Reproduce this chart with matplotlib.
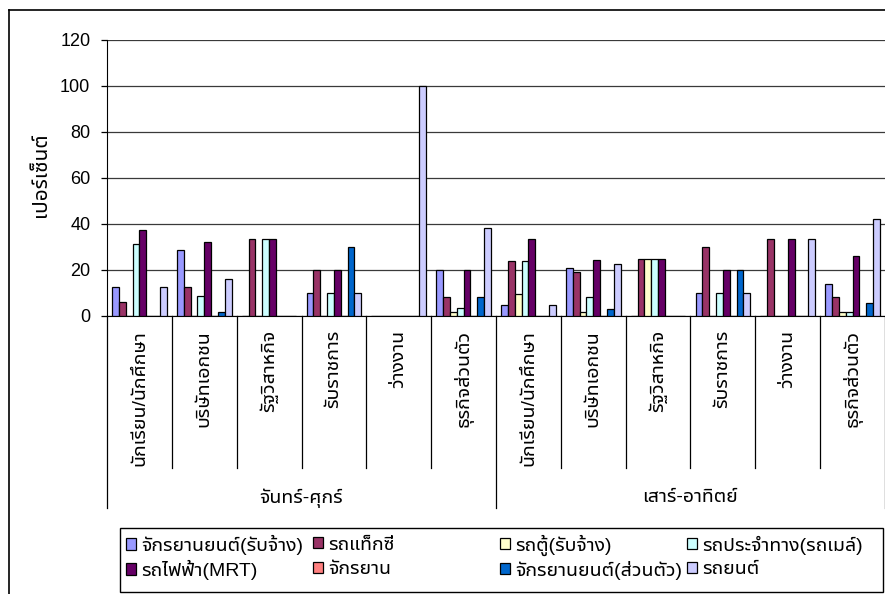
import matplotlib
matplotlib.use("Agg")
import matplotlib.pyplot as plt
import numpy as np
from matplotlib import font_manager
from matplotlib.ft2font import FT2Font
from matplotlib.transforms import blended_transform_factory
from matplotlib.lines import Line2D
from matplotlib.patches import Rectangle

# ---- data -------------------------------------------------------------
occupations = ['นักเรียน/นักศึกษา', 'บริษัทเอกชน', 'รัฐวิสาหกิจ',
               'รับราชการ', 'ว่างงาน', 'ธุรกิจส่วนตัว']
day_groups = ['จันทร์-ศุกร์', 'เสาร์-อาทิตย์']
categories = occupations * 2

series_names = ['จักรยานยนต์(รับจ้าง)', 'รถแท็กซี่', 'รถตู้(รับจ้าง)',
                'รถประจำทาง(รถเมล์)', 'รถไฟฟ้า(MRT)', 'จักรยาน',
                'จักรยานยนต์(ส่วนตัว)', 'รถยนต์']

moto_taxi  = [12.5, 28.6, 0, 10, 0, 20.0,  4.8, 21.0, 0, 10, 0, 13.9]
taxi       = [6.25, 12.5, 33.3, 20, 0, 8.3, 23.8, 19.0, 25, 30, 33.3, 8.3]
van        = [0, 0, 0, 0, 0, 1.7,  9.5, 1.7, 25, 0, 0, 1.7]
bus        = [31.25, 8.9, 33.3, 10, 0, 3.5, 23.8, 8.3, 25, 10, 0, 1.7]
mrt        = [37.5, 32.1, 33.3, 20, 0, 20.0, 33.3, 24.2, 25, 20, 33.3, 26.1]
bicycle    = [0, 0, 0, 0, 0, 0, 0, 0, 0, 0, 0, 0]
own_moto   = [0, 1.8, 0, 30, 0, 8.3, 0, 3.2, 0, 20, 0, 5.7]
car        = [12.5, 16.1, 0, 10, 100, 38.3, 4.8, 22.4, 0, 10, 33.3, 42.1]

series_values = [moto_taxi, taxi, van, bus, mrt, bicycle, own_moto, car]
series_colors = ['#9999FF', '#993366', '#FFFFCC', '#CCFFFF',
                 '#660066', '#FF8080', '#0066CC', '#CCCCFF']

y_ticks = [0, 20, 40, 60, 80, 100, 120]
y_title = 'เปอร์เซ็นต์'


# ---- fonts ------------------------------------------------------------
def find_thai_family():
    found = []
    for entry in font_manager.fontManager.ttflist:
        try:
            cmap = FT2Font(entry.fname).get_charmap()
        except Exception:
            continue
        if all(ord(c) in cmap for c in 'กรถยนต์ญ'):
            found.append(entry.name)
    if not found:
        return None
    def score(name):
        n = name.lower()
        s = 0
        if 'thai' in n:
            s -= 3
        if 'sans' in n:
            s -= 2
        if 'looped' in n or 'serif' in n or 'mono' in n:
            s += 3
        return s
    found = sorted(set(found), key=score)
    return found[0]


thai = find_thai_family()
families = ['Liberation Sans']
if thai:
    families.append(thai)
families.append('DejaVu Sans')
plt.rcParams['font.family'] = families

FS_NUM = 13     # axis numbers
FS_TXT = 14     # Thai labels

# ---- figure -----------------------------------------------------------
W, H = 885, 594
fig = plt.figure(figsize=(W / 100, H / 100), dpi=100)
fig.patch.set_facecolor('white')


def fx(px):
    return px / W


def fy(py):
    return 1 - py / H


ax = fig.add_axes([fx(107), fy(316), fx(885) - fx(107), fy(40) - fy(316)])

n_cat = len(categories)
n_ser = len(series_values)
x = np.arange(n_cat)
bar_w = 1 / (n_ser + 1.5)

bars = []
for j, (vals, col, name) in enumerate(zip(series_values, series_colors, series_names)):
    b = ax.bar(x + (j - (n_ser - 1) / 2) * bar_w, vals, width=bar_w,
               color=col, edgecolor='black', linewidth=0.9, label=name, zorder=3)
    bars.append(b)

ax.set_xlim(-0.5, n_cat - 0.5)
ax.set_ylim(0, 120)
ax.set_yticks(y_ticks)
ax.set_yticklabels([str(v) for v in y_ticks], fontsize=FS_NUM)
ax.yaxis.grid(True, color='#3a3a3a', linewidth=0.9, zorder=0)
ax.set_axisbelow(True)
for side in ('top', 'right'):
    ax.spines[side].set_visible(False)
ax.spines['left'].set_color('black')
ax.spines['bottom'].set_color('black')
ax.tick_params(axis='y', direction='out', length=4, width=0.9, pad=8)

ax.set_xticks(x)
ax.set_xticklabels(categories, rotation=90, fontsize=FS_TXT)
ax.tick_params(axis='x', length=0, pad=10)

ax.set_ylabel(y_title, fontsize=15, fontweight='bold')
ax.yaxis.set_label_coords((50 - 107) / 778, (316 - 175) / 276)

# category dividers below the axis
tr = blended_transform_factory(ax.transData, fig.transFigure)
for i in range(n_cat + 1):
    xb = i - 0.5
    long_line = i % len(occupations) == 0
    y_end = fy(508) if long_line else fy(468)
    fig.add_artist(Line2D([xb, xb], [fy(316), y_end], transform=tr,
                          color='black', linewidth=0.9))

for g, name in enumerate(day_groups):
    xc = g * len(occupations) + (len(occupations) - 1) / 2
    ax.text(xc, fy(498), name, transform=tr, ha='center', va='center',
            fontsize=FS_TXT)

# outer chart frame
fig.add_artist(Line2D([fx(8.5), fx(8.5)], [0, fy(10)], color='black', linewidth=1.2))
fig.add_artist(Line2D([fx(8.5), 1], [fy(10), fy(10)], color='black', linewidth=1.2))

# legend: 4 columns x 2 rows of equal-width cells inside one frame
fig.add_artist(Rectangle((fx(120), fy(592)), fx(883) - fx(120), fy(528) - fy(592),
                         transform=fig.transFigure, facecolor='white',
                         edgecolor='black', linewidth=1.0))
col_w = 187
row_y = [545, 570]
for k, (b, name) in enumerate(zip(bars, series_names)):
    r, c = divmod(k, 4)
    fig.legend([b], [name], loc='center left',
               bbox_to_anchor=(fx(126 + c * col_w), fy(row_y[r])),
               frameon=False, fontsize=FS_TXT, handlelength=0.52,
               handleheight=0.52, handletextpad=0.25,
               borderpad=0.0, borderaxespad=0)

fig.savefig('out.png', dpi=100)
